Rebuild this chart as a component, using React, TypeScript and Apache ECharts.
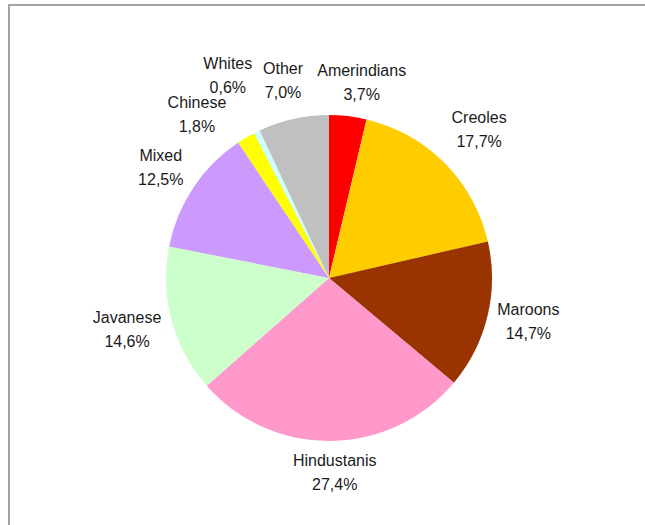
import React, { useEffect, useRef } from "react";
import * as echarts from "echarts";

const categories = ["Amerindians", "Creoles", "Maroons", "Hindustanis", "Javanese", "Mixed", "Chinese", "Whites", "Other"];
const shares = [3.7, 17.7, 14.7, 27.4, 14.6, 12.5, 1.8, 0.6, 7.0];
const sliceColors = ["#FF0000", "#FFCC00", "#993300", "#FF99CC", "#CCFFCC", "#CC99FF", "#FFFF00", "#CCFFFF", "#C0C0C0"];
// small per-label nudges (layout only), in px
const labelNudge: [number, number][] = [
  [7, 2], [5, -8], [-3, -3], [3, -4], [2, 0], [-2, 0], [-27, 8], [-12, -24], [-3, -3],
];

const CX = 329;
const CY = 278;
const R = 163;
const GAP = 14;

export default function App() {
  const ref = useRef<HTMLDivElement>(null);
  useEffect(() => {
    if (!ref.current) return;
    document.body.style.margin = "0";
    document.body.style.overflow = "hidden";
    const chart = echarts.init(ref.current, undefined, { renderer: "svg" });
    const total = shares.reduce((a, b) => a + b, 0);
    chart.setOption({
      animation: false,
      backgroundColor: "#ffffff",
      graphic: [
        { type: "rect", shape: { x: 8, y: 4, width: 637, height: 2 }, style: { fill: "#A3A3A3" } },
        { type: "rect", shape: { x: 8, y: 4, width: 2, height: 521 }, style: { fill: "#A3A3A3" } },
      ],
      series: [
        {
          type: "pie",
          center: [CX, CY],
          radius: R,
          startAngle: 90,
          clockwise: true,
          avoidLabelOverlap: false,
          silent: true,
          itemStyle: { borderWidth: 0 },
          label: {
            show: true,
            position: "outside",
            fontFamily: "'Liberation Sans', Arial, sans-serif",
            fontSize: 16,
            lineHeight: 24,
            color: "#1a1a1a",
            align: "center",
            formatter: (p: any) => `${p.name}\n${Number(p.value).toFixed(1).replace(".", ",")}%`,
          },
          labelLine: { show: false },
          labelLayout: (params: any) => {
            const i = params.dataIndex;
            let before = 0;
            for (let k = 0; k < i; k++) before += shares[k];
            const mid = 90 - ((before + shares[i] / 2) / total) * 360;
            const rad = (mid * Math.PI) / 180;
            const c = Math.cos(rad);
            const s = Math.sin(rad);
            const w = params.labelRect.width;
            const h = params.labelRect.height - 4;
            const d = R + GAP;
            const x = CX + c * d + c * (w / 2) + labelNudge[i][0];
            const y = CY - s * d - s * (h / 2) + labelNudge[i][1];
            return { x, y, align: "center", verticalAlign: "middle" };
          },
          data: categories.map((name, i) => ({
            name,
            value: shares[i],
            itemStyle: { color: sliceColors[i] },
          })),
        },
      ],
    });
    return () => chart.dispose();
  }, []);
  return (
    <div
      ref={ref}
      style={{ position: "absolute", left: 0, top: 0, width: 645, height: 525 }}
    />
  );
}
